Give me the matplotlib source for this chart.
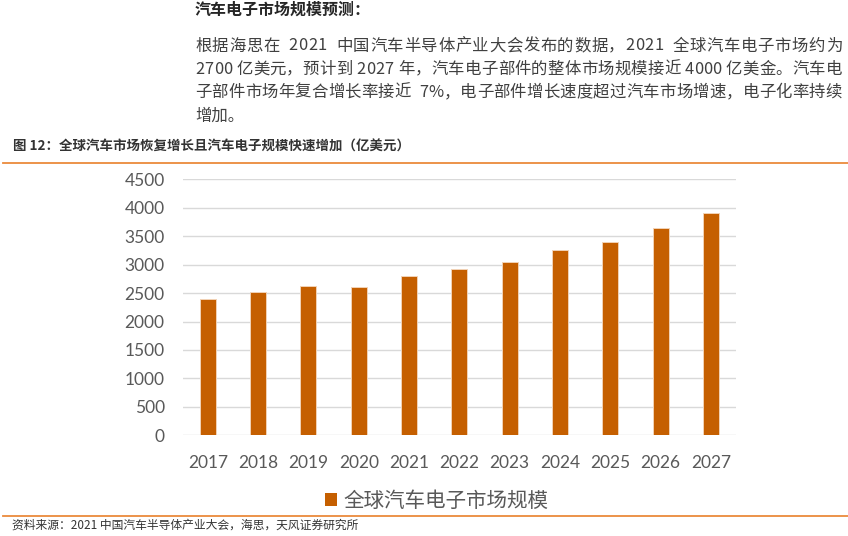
import matplotlib
matplotlib.use('Agg')
import matplotlib.pyplot as plt
from matplotlib.patches import Patch
from matplotlib.lines import Line2D
from matplotlib.textpath import TextPath
from matplotlib.font_manager import FontProperties

# data
years = ['2017', '2018', '2019', '2020', '2021', '2022', '2023', '2024', '2025', '2026', '2027']
market = [2400, 2520, 2620, 2600, 2800, 2920, 3040, 3250, 3400, 3650, 3900]
yticks = [0, 500, 1000, 1500, 2000, 2500, 3000, 3500, 4000, 4500]
series_name = '全球汽车电子市场规模'

header = '汽车电子市场规模预测：'
para = ['根据海思在  2021  中国汽车半导体产业大会发布的数据，2021  全球汽车电子市场约为',
        '2700 亿美元，预计到 2027 年，汽车电子部件的整体市场规模接近 4000 亿美金。汽车电',
        '子部件市场年复合增长率接近  7%，电子部件增长速度超过汽车市场增速，电子化率持续',
        '增加。']
caption = '图 12：全球汽车市场恢复增长且汽车电子规模快速增加（亿美元）'
source = '资料来源：2021 中国汽车半导体产业大会，海思，天风证券研究所'

CJK = ['Noto Sans CJK SC', 'DejaVu Sans']
W, H = 848, 536
bar_color = '#C55F00'
orange = '#EB8A3C'
gray = '#595959'

fig = plt.figure(figsize=(W / 100, H / 100), dpi=100)

def fx(px):
    return px / W

def fy(py):
    return 1 - py / H

def justified(s, x0, x1, yy, size, color):
    # spread the characters of one line evenly between x0 and x1 (pixels)
    fp = FontProperties(family=CJK, size=size)
    scale = 100 / 72.0
    widths = [TextPath((0, 0), c, prop=fp).get_extents().width if c.strip() else 0 for c in s]
    adv = []
    for c in s:
        # advance width: use glyph advance for CJK/latin via text path of 'c|' minus '|'
        a = TextPath((0, 0), c + '|', prop=fp).get_extents().x1 - TextPath((0, 0), '|', prop=fp).get_extents().x1
        adv.append(a * scale)
    total = sum(adv)
    extra = (x1 - x0 - total) / (len(s) - 1)
    xp = x0
    for c, a in zip(s, adv):
        if c.strip():
            fig.text(fx(xp), fy(yy), c, family=CJK, fontsize=size, color=color,
                     va='center', ha='left')
        xp += a + extra

# text above the chart
fig.text(fx(195), fy(10), header, family=CJK, fontsize=11.5, fontweight='bold',
         color='#262626', va='center', ha='left')
line_y = [46, 69, 92.5, 116]
for i, (s, yy) in enumerate(zip(para, line_y)):
    if i < 3:
        justified(s, 195, 842, yy, 11.8, '#404040')
    else:
        fig.text(fx(195), fy(yy), s, family=CJK, fontsize=11.8, color='#404040',
                 va='center', ha='left')

fig.text(fx(13), fy(147), caption, family=CJK, fontsize=9.7, fontweight='bold',
         color='#333333', va='center', ha='left')
fig.add_artist(Line2D([fx(3), 1], [fy(163.3), fy(163.3)], color=orange, lw=1.3))

# chart
ax = fig.add_axes([fx(182.7), fy(435.3), fx(736 - 182.7), (435.3 - 179.3) / H])
x = range(len(years))
ax.bar(x, market, width=0.32, color=bar_color, edgecolor='#F2D3B6', linewidth=0.7, zorder=3)
ax.set_xlim(-0.5, len(years) - 0.5)
ax.set_ylim(0, 4500)
ax.set_yticks(yticks)
ax.set_xticks(list(x))
ax.set_xticklabels(years)
ax.grid(axis='y', color='#D9D9D9', lw=1, zorder=0)
for sp in ax.spines.values():
    sp.set_visible(False)
ax.tick_params(length=0, labelsize=12.5, labelcolor=gray)
ax.tick_params(axis='y', pad=13)
ax.tick_params(axis='x', pad=14)
for lab in ax.get_xticklabels() + ax.get_yticklabels():
    lab.set_family('Lato')

leg = fig.legend(handles=[Patch(facecolor=bar_color, label=series_name)],
                 loc='center', bbox_to_anchor=(fx(437), fy(501)), frameon=False,
                 handlelength=0.55, handleheight=0.6, handletextpad=0.35,
                 prop={'family': CJK, 'size': 14.8})
for t in leg.get_texts():
    t.set_color(gray)

# footer
fig.add_artist(Line2D([fx(3), 1], [fy(516), fy(516)], color=orange, lw=1.3))
fig.text(fx(12), fy(525), source, family=CJK, fontsize=8.5, color='#333333',
         va='center', ha='left')

fig.savefig('out.png', dpi=100)
